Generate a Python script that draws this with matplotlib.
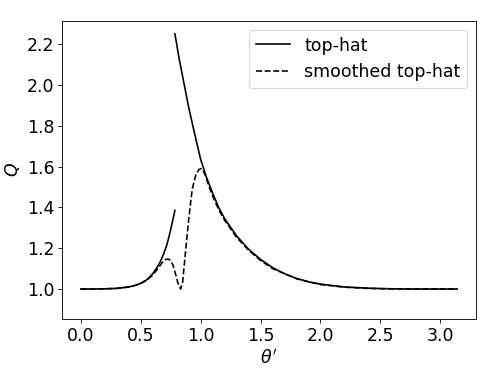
import numpy as np
import matplotlib
matplotlib.use("Agg")
import matplotlib.pyplot as plt

# top-hat, left branch (below the jump)
th_left = [0.0, 0.1, 0.2, 0.3, 0.4, 0.45, 0.5, 0.55, 0.6, 0.63, 0.66, 0.69, 0.72, 0.75, 0.785]
q_left = [1.0, 1.0, 1.001, 1.003, 1.010, 1.017, 1.028, 1.045, 1.075, 1.10, 1.13, 1.17, 1.22, 1.29, 1.385]

# top-hat, right branch (above the jump)
th_right = [0.785, 0.82, 0.85, 0.9, 0.95, 1.0, 1.05, 1.1, 1.15, 1.2, 1.3, 1.4, 1.5, 1.6,
            1.7, 1.8, 1.9, 2.0, 2.2, 2.4, 2.6, 2.8, 3.0, 3.1416]
q_right = [2.25, 2.13, 2.04, 1.89, 1.76, 1.635, 1.545, 1.47, 1.40, 1.345, 1.26, 1.195, 1.145, 1.105,
           1.075, 1.052, 1.035, 1.024, 1.010, 1.004, 1.001, 1.0, 1.0, 1.0]

# smoothed top-hat
th_smooth = [0.0, 0.1, 0.2, 0.3, 0.4, 0.45, 0.5, 0.55, 0.6, 0.65, 0.68, 0.71, 0.73, 0.75, 0.77,
             0.79, 0.81, 0.833, 0.85, 0.875, 0.9, 0.93, 0.96, 0.985, 1.005, 1.03, 1.06, 1.1,
             1.15, 1.2, 1.3, 1.4, 1.5, 1.6, 1.8, 2.0, 2.2, 2.4, 2.6, 2.8, 3.0, 3.1416]
q_smooth = [1.0, 1.0, 1.001, 1.003, 1.010, 1.017, 1.027, 1.043, 1.068, 1.105, 1.13, 1.145, 1.147, 1.14, 1.115,
            1.075, 1.03, 1.0, 1.035, 1.19, 1.34, 1.49, 1.56, 1.585, 1.59, 1.57, 1.52, 1.455,
            1.39, 1.337, 1.253, 1.19, 1.14, 1.10, 1.05, 1.022, 1.009, 1.003, 1.0, 1.0, 1.0, 1.0]

fig = plt.figure(figsize=(498/78, 374/78), dpi=78)
ax = fig.add_subplot(111)
fig.subplots_adjust(left=0.1245, right=0.956, bottom=0.147, top=0.944)

ax.plot(th_left, q_left, "k-", label="top-hat")
ax.plot(th_right, q_right, "k-")
ax.plot(th_smooth, q_smooth, "k--", label="smoothed top-hat")

ax.set_ylim(0.853, 2.313)
ax.set_xlabel(r"$\theta'$", fontsize=16)
ax.set_ylabel(r"$Q$", fontsize=16)
ax.tick_params(labelsize=16)
ax.legend(loc="upper right", fontsize=16)

fig.savefig("out.png", dpi=78)
